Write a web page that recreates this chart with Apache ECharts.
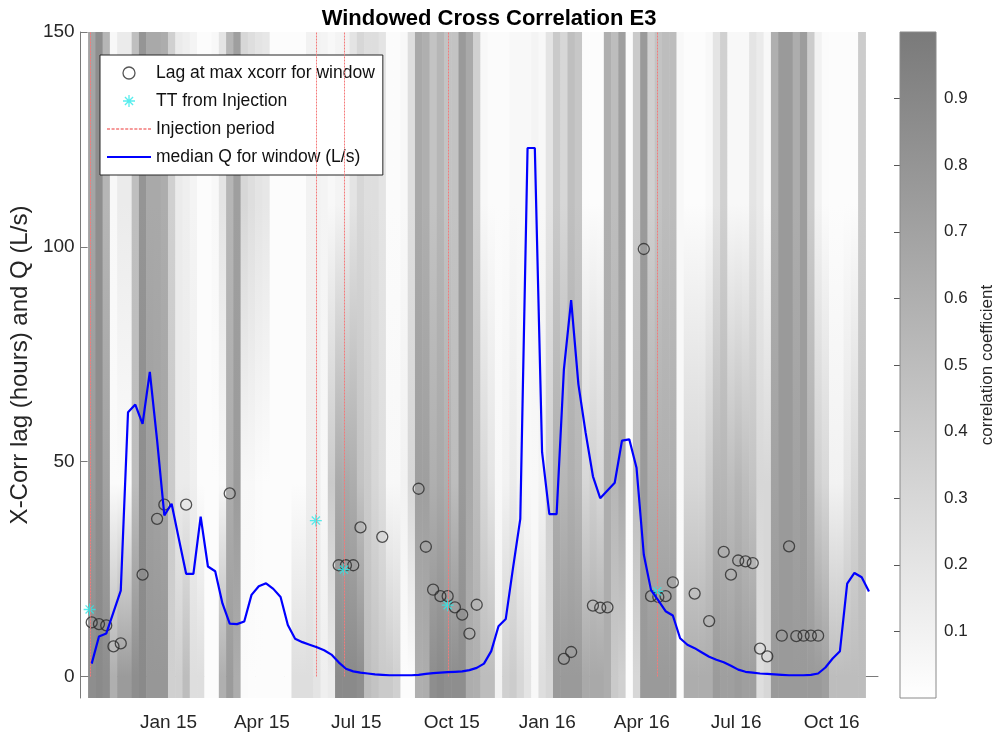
<!DOCTYPE html>
<html>
<head>
<meta charset="utf-8">
<script src="https://cdn.jsdelivr.net/npm/echarts@6/dist/echarts.min.js"></script>
<style>html,body{margin:0;padding:0;background:#fff}#c{width:997px;height:735px}</style>
</head>
<body>
<div id="c"></div>
<script>
// ---------------- data ----------------
const firstWindowCenter = '2014-10-19';   // centre of first weekly window
const windowStepDays = 7;

// median discharge per window (L/s)
const medianQ = [
  3.0, 9.3, 10.0, 15.0, 20.0, 61.5, 63.3, 58.8, 70.9, 55.0,
  37.5, 40.2, 32.0, 23.9, 23.9, 37.2, 25.6, 24.5, 17.0, 12.3,
  12.2, 12.8, 19.0, 21.0, 21.7, 20.4, 18.5, 12.0, 8.8, 8.0,
  7.4, 6.8, 6.1, 5.1, 3.3, 1.8, 1.2, 0.9, 0.7, 0.5,
  0.4, 0.3, 0.3, 0.3, 0.3, 0.4, 0.6, 0.8, 0.9, 1.0,
  1.1, 1.2, 1.5, 2.0, 3.0, 5.9, 11.7, 13.4, 25.3, 36.7,
  123, 123, 52.2, 37.8, 37.8, 71.4, 87.6, 68.0, 56.7, 46.6,
  41.5, 43.3, 45.1, 54.9, 55.2, 48.6, 28.4, 20.1, 17.7, 15.2,
  14.2, 8.9, 7.4, 6.6, 5.6, 4.6, 3.9, 3.3, 2.5, 1.6,
  1.1, 0.9, 0.7, 0.6, 0.5, 0.4, 0.3, 0.3, 0.3, 0.4,
  0.7, 2.1, 4.2, 5.9, 21.6, 24.1, 23.1, 19.8
];

// lag at max xcorr: window index and lag (hours)
const lagWindow = [0,1,2,3,4,7,9,10,13,19,34,35,36,37,40,45,46,47,48,49,50,51,52,53,65,66,69,70,71,76,77,78,79,80,83,85,87,88,89,90,91,92,93,95,96,97,98,99,100];
const lagHours  = [12.6,12.2,11.9,7.0,7.7,23.7,36.7,40,40,42.6,25.9,25.9,25.9,34.7,32.5,43.7,30.2,20.2,18.7,18.7,16.1,14.4,10,16.7,4.1,5.7,16.5,16,16.1,99.5,18.7,18.5,18.7,21.9,19.3,12.9,29,23.7,27,26.8,26.4,6.5,4.7,9.5,30.3,9.4,9.5,9.5,9.5];

// injections: dates and travel time from injection (hours)
const injectionDates = ['2014-10-17','2015-05-23','2015-06-19','2015-09-27','2016-04-16'];
const ttHours = [15.6, 36.3, 24.9, 16.6, 19.8];

// correlation coefficient per window, read at three lag levels
const corrLevelLags = [0, 45, 110];
const corrTop = [
  0.68,0.85,0.55,0.05,0.15,0.15,0.48,0.80,0.65,0.65,
  0.62,0.35,0.15,0.12,0.08,0.02,0.02,0.05,0.20,0.55,
  0.72,0.30,0.25,0.20,0.18,0.02,0.02,0.02,0.02,0.02,
  0.10,0.10,0.08,0.05,0.08,0.10,0.20,0.30,0.25,0.25,
  0.20,0.03,0.03,0.05,0.25,0.65,0.60,0.45,0.55,0.45,
  0.45,0.76,0.65,0.35,0.05,0.03,0.03,0.03,0.05,0.05,
  0.05,0.08,0.05,0.20,0.40,0.30,0.48,0.42,0.02,0.02,
  0.02,0.60,0.50,0.72,0.03,0.40,0.76,0.35,0.45,0.50,
  0.50,0.05,0.02,0.02,0.02,0.05,0.20,0.35,0.05,0.05,
  0.05,0.20,0.15,0.05,0.60,0.76,0.76,0.62,0.74,0.38,
  0.10,0.03,0.02,0.02,0.02,0.02,0.38
];
const corrMid = [
  0.75,0.85,0.70,0.03,0.03,0.03,0.50,0.85,0.72,0.70,
  0.68,0.40,0.15,0.15,0.12,0.02,0.02,0.02,0.05,0.62,
  0.75,0.05,0.05,0.03,0.02,0.02,0.02,0.02,0.02,0.02,
  0.12,0.12,0.05,0.40,0.65,0.65,0.62,0.45,0.38,0.30,
  0.25,0.05,0.05,0.10,0.30,0.72,0.72,0.60,0.65,0.60,
  0.50,0.76,0.65,0.50,0.30,0.20,0.05,0.10,0.15,0.08,
  0.05,0.05,0.10,0.35,0.60,0.55,0.60,0.55,0.30,0.35,
  0.30,0.62,0.55,0.65,0.03,0.50,0.75,0.60,0.60,0.60,
  0.60,0.05,0.30,0.30,0.30,0.40,0.55,0.55,0.50,0.55,
  0.50,0.45,0.30,0.30,0.70,0.76,0.76,0.70,0.74,0.60,
  0.35,0.30,0.10,0.10,0.20,0.30,0.45
];
const corrLow = [
  0.85,0.88,0.85,0.60,0.75,0.75,0.85,0.88,0.78,0.78,
  0.78,0.35,0.35,0.50,0.25,0.25,0.02,0.02,0.60,0.75,
  0.62,0.03,0.02,0.02,0.02,0.02,0.02,0.02,0.25,0.25,
  0.25,0.20,0.12,0.15,0.88,0.88,0.88,0.85,0.50,0.45,
  0.40,0.40,0.35,0.02,0.02,0.60,0.62,0.85,0.88,0.85,
  0.85,0.85,0.62,0.60,0.50,0.50,0.10,0.35,0.38,0.30,
  0.20,0.05,0.25,0.30,0.76,0.76,0.76,0.76,0.65,0.65,
  0.65,0.62,0.40,0.35,0.02,0.30,0.76,0.76,0.76,0.76,
  0.76,0.02,0.62,0.62,0.62,0.62,0.75,0.72,0.72,0.75,
  0.72,0.72,0.25,0.30,0.76,0.76,0.76,0.76,0.76,0.76,
  0.76,0.72,0.50,0.50,0.50,0.50,0.50
];

// axis ticks
const xTickDates  = ['2015-01-01','2015-04-01','2015-07-01','2015-10-01','2016-01-01','2016-04-01','2016-07-01','2016-10-01'];
const xTickLabels = ['Jan 15','Apr 15','Jul 15','Oct 15','Jan 16','Apr 16','Jul 16','Oct 16'];
const yTicks = [0, 50, 100, 150];
const cbTicks = [0.1,0.2,0.3,0.4,0.5,0.6,0.7,0.8,0.9];

// ---------------- build ----------------
const DAY = 86400000;
const FONT = 'Liberation Sans, Arial, Helvetica, sans-serif';
const ts = s => Date.parse(s + 'T00:00:00Z');
const t0 = ts('2015-01-01');
const xMin = t0 - 84.7 * DAY, xMax = t0 + 683.7 * DAY;
const winTime = i => ts(firstWindowCenter) + i * windowStepDays * DAY;
const CB_DARK = 122;
const RED = '#f47a7a';
const CYAN = '#2ee8e8';
function ramp(r) {
  r = Math.max(0, Math.min(1, r));
  const g = Math.round(255 - r * (255 - CB_DARK));
  return 'rgb(' + g + ',' + g + ',' + g + ')';
}
const xTickTs = xTickDates.map(ts);

const heatData = corrTop.map((_, i) => [winTime(i), 0, i]);
const qData = medianQ.map((q, i) => [winTime(i), q]);
const lagData = lagWindow.map((w, k) => [winTime(w), lagHours[k]]);
const ttData = injectionDates.map((d, k) => [ts(d), ttHours[k]]);
const injData = injectionDates.map(d => [ts(d), 0, 150]);

const asterisk = 'path://M0,5L10,5M5,0L5,10M1.6,1.6L8.4,8.4M1.6,8.4L8.4,1.6';
let dotted = 'path://';
for (let k = 0; k < 10; k++) dotted += 'M' + (k * 3) + ',0h2v1.1h-2z';
const circleStyle = { color: 'rgba(0,0,0,0)', borderColor: '#2a2a2a', borderWidth: 1.3 };
const starStyle = { color: 'rgba(0,0,0,0)', borderColor: CYAN, borderWidth: 1.3 };

function renderHeat(params, api) {
  const t = api.value(0), i = api.value(2);
  const a = api.coord([t - windowStepDays / 2 * DAY, 150]);
  const b = api.coord([t + windowStepDays / 2 * DAY, -5]);
  const h = b[1] - a[1];
  const off = lag => (api.coord([t, lag])[1] - a[1]) / h;
  const stops = [
    { offset: 0, color: ramp(corrTop[i]) },
    { offset: off(corrLevelLags[2]), color: ramp(corrTop[i]) },
    { offset: off(corrLevelLags[1]), color: ramp(corrMid[i]) },
    { offset: off(corrLevelLags[0]), color: ramp(corrLow[i]) },
    { offset: 1, color: ramp(corrLow[i]) }
  ];
  return {
    type: 'rect',
    shape: { x: a[0], y: a[1], width: b[0] - a[0] + 0.6, height: h },
    style: { fill: new echarts.graphic.LinearGradient(0, 0, 0, 1, stops) }
  };
}
function renderInjection(params, api) {
  const p0 = api.coord([api.value(0), api.value(1)]);
  const p1 = api.coord([api.value(0), api.value(2)]);
  const x = Math.round(p0[0]) + 0.5;
  return {
    type: 'line',
    shape: { x1: x, y1: p0[1], x2: x, y2: p1[1] },
    style: { stroke: RED, lineWidth: 1, lineDash: [2, 1] }
  };
}
function renderBar(params, api) {
  const a = api.coord([0, 1]);
  const b = api.coord([1, 0]);
  return {
    type: 'rect',
    shape: { x: a[0], y: a[1], width: b[0] - a[0], height: b[1] - a[1] },
    style: {
      fill: new echarts.graphic.LinearGradient(0, 0, 0, 1, [
        { offset: 0, color: ramp(1) }, { offset: 1, color: ramp(0) }]),
      stroke: '#8a8a8a', lineWidth: 1
    }
  };
}

const chart = echarts.init(document.getElementById('c'), null, { renderer: 'canvas' });
chart.setOption({
  animation: false,
  backgroundColor: '#fff',
  textStyle: { fontFamily: FONT },
  title: {
    text: 'Windowed Cross Correlation E3',
    left: 484, top: 3, textAlign: 'center',
    textStyle: { fontFamily: FONT, fontSize: 22, fontWeight: 'bold', color: '#000' }
  },
  legend: {
    left: 100, top: 55, orient: 'vertical',
    itemWidth: 44, itemHeight: 12, itemGap: 10,
    padding: [9, 8, 9, 6],
    borderColor: '#262626', borderWidth: 1, backgroundColor: '#fff',
    selectedMode: false,
    textStyle: { fontFamily: FONT, fontSize: 17.5, color: '#111', lineHeight: 18 },
    data: [
      { name: 'Lag at max xcorr for window', icon: 'circle', itemStyle: circleStyle },
      { name: 'TT from Injection', icon: asterisk, itemStyle: starStyle },
      { name: 'Injection period', icon: dotted, itemStyle: { color: RED } },
      { name: 'median Q for window (L/s)', itemStyle: { opacity: 0 } }
    ]
  },
  grid: [
    { left: 80, right: 119, top: 32, bottom: 37 },
    { left: 900, width: 39, top: 32, height: 666 }
  ],
  xAxis: [
    {
      type: 'value', gridIndex: 0, min: xMin, max: xMax,
      axisLine: { show: true, lineStyle: { color: '#7a7a7a', width: 1 } },
      axisTick: { show: false },
      splitLine: { show: false },
      axisLabel: {
        customValues: xTickTs, margin: 15, fontSize: 19, color: '#262626', fontFamily: FONT,
        formatter: v => { const k = xTickTs.indexOf(v); return k >= 0 ? xTickLabels[k] : ''; }
      }
    },
    { type: 'value', gridIndex: 1, min: 0, max: 1, show: false }
  ],
  yAxis: [
    {
      type: 'value', gridIndex: 0, min: -5, max: 150,
      name: 'X-Corr lag (hours) and Q (L/s)', nameLocation: 'middle', nameGap: 44,
      nameTextStyle: { fontFamily: FONT, fontSize: 24, color: '#262626' },
      axisLine: { show: true, lineStyle: { color: '#7a7a7a', width: 1 } },
      axisTick: { show: true, inside: true, length: 7, customValues: yTicks, lineStyle: { color: '#7a7a7a' } },
      axisLabel: { customValues: yTicks, fontSize: 19, color: '#262626', margin: 6, fontFamily: FONT },
      splitLine: { show: false }
    },
    {
      type: 'value', gridIndex: 1, min: 0, max: 1, position: 'right',
      name: 'correlation coefficient', nameLocation: 'middle', nameGap: 43,
      nameTextStyle: { fontFamily: FONT, fontSize: 17, color: '#262626' },
      axisLine: { show: false },
      axisTick: { show: true, inside: true, length: 6, customValues: cbTicks, lineStyle: { color: '#555' } },
      axisLabel: { customValues: cbTicks, fontSize: 17, color: '#262626', margin: 8, fontFamily: FONT,
        formatter: v => v.toFixed(1) },
      splitLine: { show: false }
    },
    {
      type: 'value', gridIndex: 0, min: -5, max: 150, position: 'right',
      axisLine: { show: false },
      axisTick: { show: true, inside: true, length: 8, customValues: [0], lineStyle: { color: '#7a7a7a' } },
      axisLabel: { show: false },
      splitLine: { show: false }
    }
  ],
  series: [
    {
      name: 'xcorr', type: 'custom', xAxisIndex: 0, yAxisIndex: 0, z: 1,
      renderItem: renderHeat, data: heatData, encode: { x: 0, y: 1 }, clip: true, silent: true
    },
    {
      name: 'Lag at max xcorr for window', type: 'scatter', z: 3,
      symbol: 'circle', symbolSize: 11, itemStyle: circleStyle, data: lagData
    },
    {
      name: 'TT from Injection', type: 'scatter', z: 4,
      symbol: asterisk, symbolSize: 12, itemStyle: starStyle, data: ttData
    },
    {
      name: 'Injection period', type: 'custom', z: 5, itemStyle: { color: RED },
      renderItem: renderInjection, data: injData, encode: { x: 0, y: [1, 2] }, silent: true
    },
    {
      name: 'median Q for window (L/s)', type: 'line', z: 6, symbol: 'none',
      itemStyle: { color: '#0000ff' },
      lineStyle: { color: '#0000ff', width: 2.2 }, data: qData
    },
    {
      name: 'colorbar', type: 'custom', xAxisIndex: 1, yAxisIndex: 1, z: 1,
      renderItem: renderBar, data: [[0, 0]], silent: true
    }
  ]
});
</script>
</body>
</html>
